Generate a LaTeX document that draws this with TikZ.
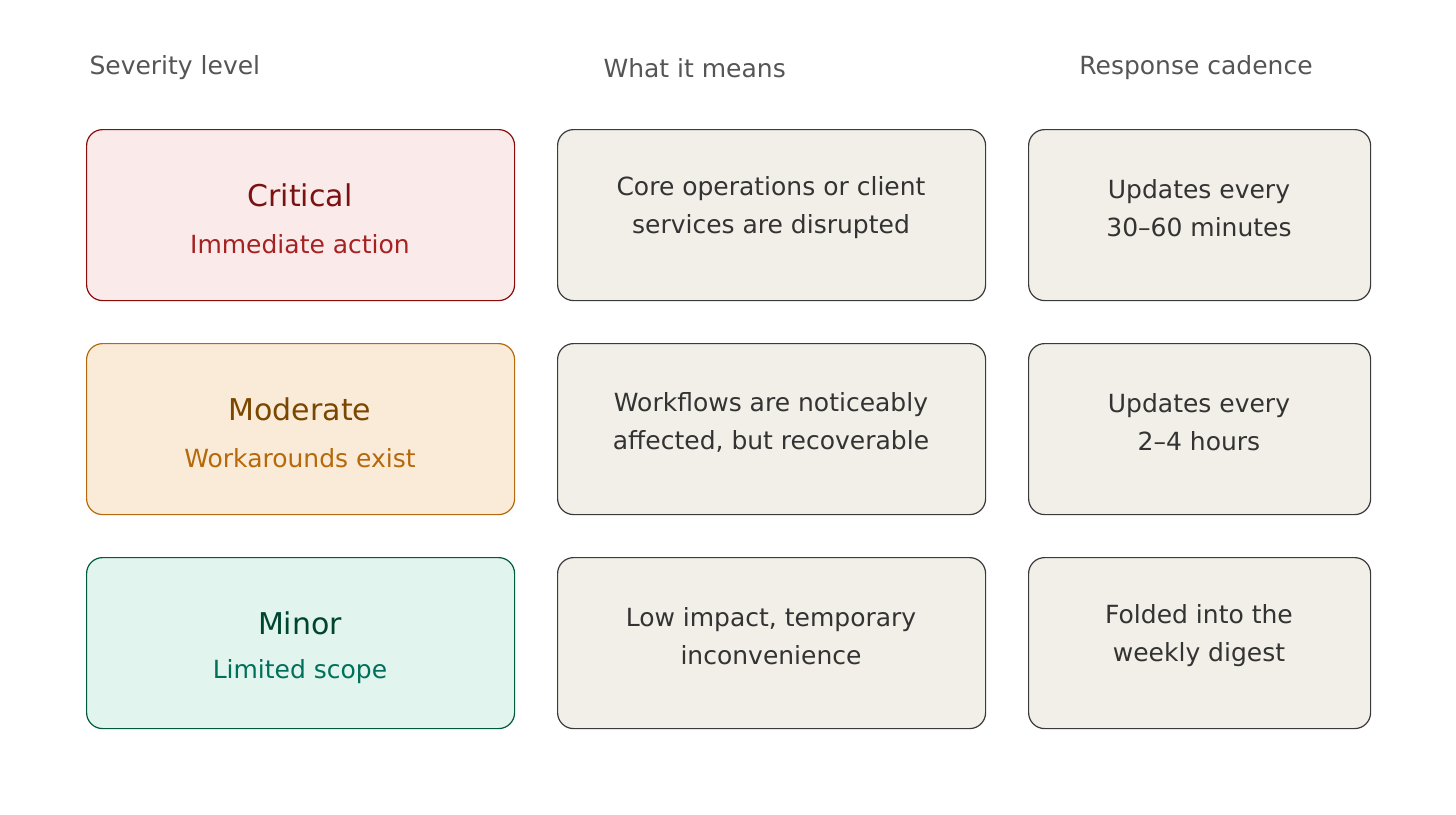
\documentclass[tikz,border=0pt]{standalone}
\usepackage{fontspec}
\setmainfont{DejaVu Sans}
\definecolor{cf}{HTML}{FBEAEA}\definecolor{cb}{HTML}{8B0A0A}\definecolor{ct}{HTML}{7A1212}\definecolor{cs}{HTML}{A52222}
\definecolor{mf}{HTML}{FAEBD8}\definecolor{mb}{HTML}{B5690A}\definecolor{mt}{HTML}{7A4600}\definecolor{ms}{HTML}{B5690A}
\definecolor{nf}{HTML}{E1F4EE}\definecolor{nb}{HTML}{005A3E}\definecolor{nt}{HTML}{004530}\definecolor{ns}{HTML}{00705A}
\definecolor{gf}{HTML}{F2EFE8}\definecolor{gb}{HTML}{3A3A3A}\definecolor{gt}{HTML}{333333}\definecolor{ht}{HTML}{555555}
\begin{document}
\begin{tikzpicture}[x=1pt,y=-1pt,
 box/.style={draw,line width=1.2pt,rounded corners=16pt,minimum height=171pt,anchor=north west,inner sep=0pt},
 wide/.style={box,minimum width=428pt},
 narrow/.style={box,minimum width=342pt},
 grey/.style={fill=gf,draw=gb},
 hdr/.style={text=ht,font=\fontsize{25}{30}\selectfont},
 body/.style={text=gt,align=center,font=\fontsize{25}{38}\selectfont},
 ttl/.style={font=\fontsize{30}{36}\selectfont},
 sub/.style={font=\fontsize{25}{30}\selectfont}]
\useasboundingbox (0,0) rectangle (1456,814);
\node[hdr,anchor=west] (h1) at (86,68) {Severity level};
\node[hdr,anchor=west] (h2) at (600,68) {What it means};
\node[hdr] (h3) at (1196,68) {Response cadence};
% column 1
\node[wide,fill=cf,draw=cb] (c1) at (86,129) {};
\node[ttl,text=ct] (c1t) at (300,195) {Critical};
\node[sub,text=cs] (c1s) at (300,244) {Immediate action};
\node[wide,fill=mf,draw=mb] (m1) at (86,343) {};
\node[ttl,text=mt] (m1t) at (300,409) {Moderate};
\node[sub,text=ms] (m1s) at (300,458) {Workarounds exist};
\node[wide,fill=nf,draw=nb] (n1) at (86,557) {};
\node[ttl,text=nt] (n1t) at (300,623) {Minor};
\node[sub,text=ns] (n1s) at (300,672) {Limited scope};
% column 2
\node[wide,grey] (c2) at (557,129) {};
\node[body] (c2t) at (771,208) {Core operations or client\\services are disrupted};
\node[wide,grey] (m2) at (557,343) {};
\node[body] (m2t) at (771,422) {Workflows are noticeably\\affected, but recoverable};
\node[wide,grey] (n2) at (557,557) {};
\node[body] (n2t) at (771,636) {Low impact, temporary\\inconvenience};
% column 3
\node[narrow,grey] (c3) at (1028,129) {};
\node[body] (c3t) at (1199,208) {Updates every\\30–60 minutes};
\node[narrow,grey] (m3) at (1028,343) {};
\node[body] (m3t) at (1199,422) {Updates every\\2–4 hours};
\node[narrow,grey] (n3) at (1028,557) {};
\node[body] (n3t) at (1199,636) {Folded into the\\weekly digest};
\end{tikzpicture}
\end{document}
